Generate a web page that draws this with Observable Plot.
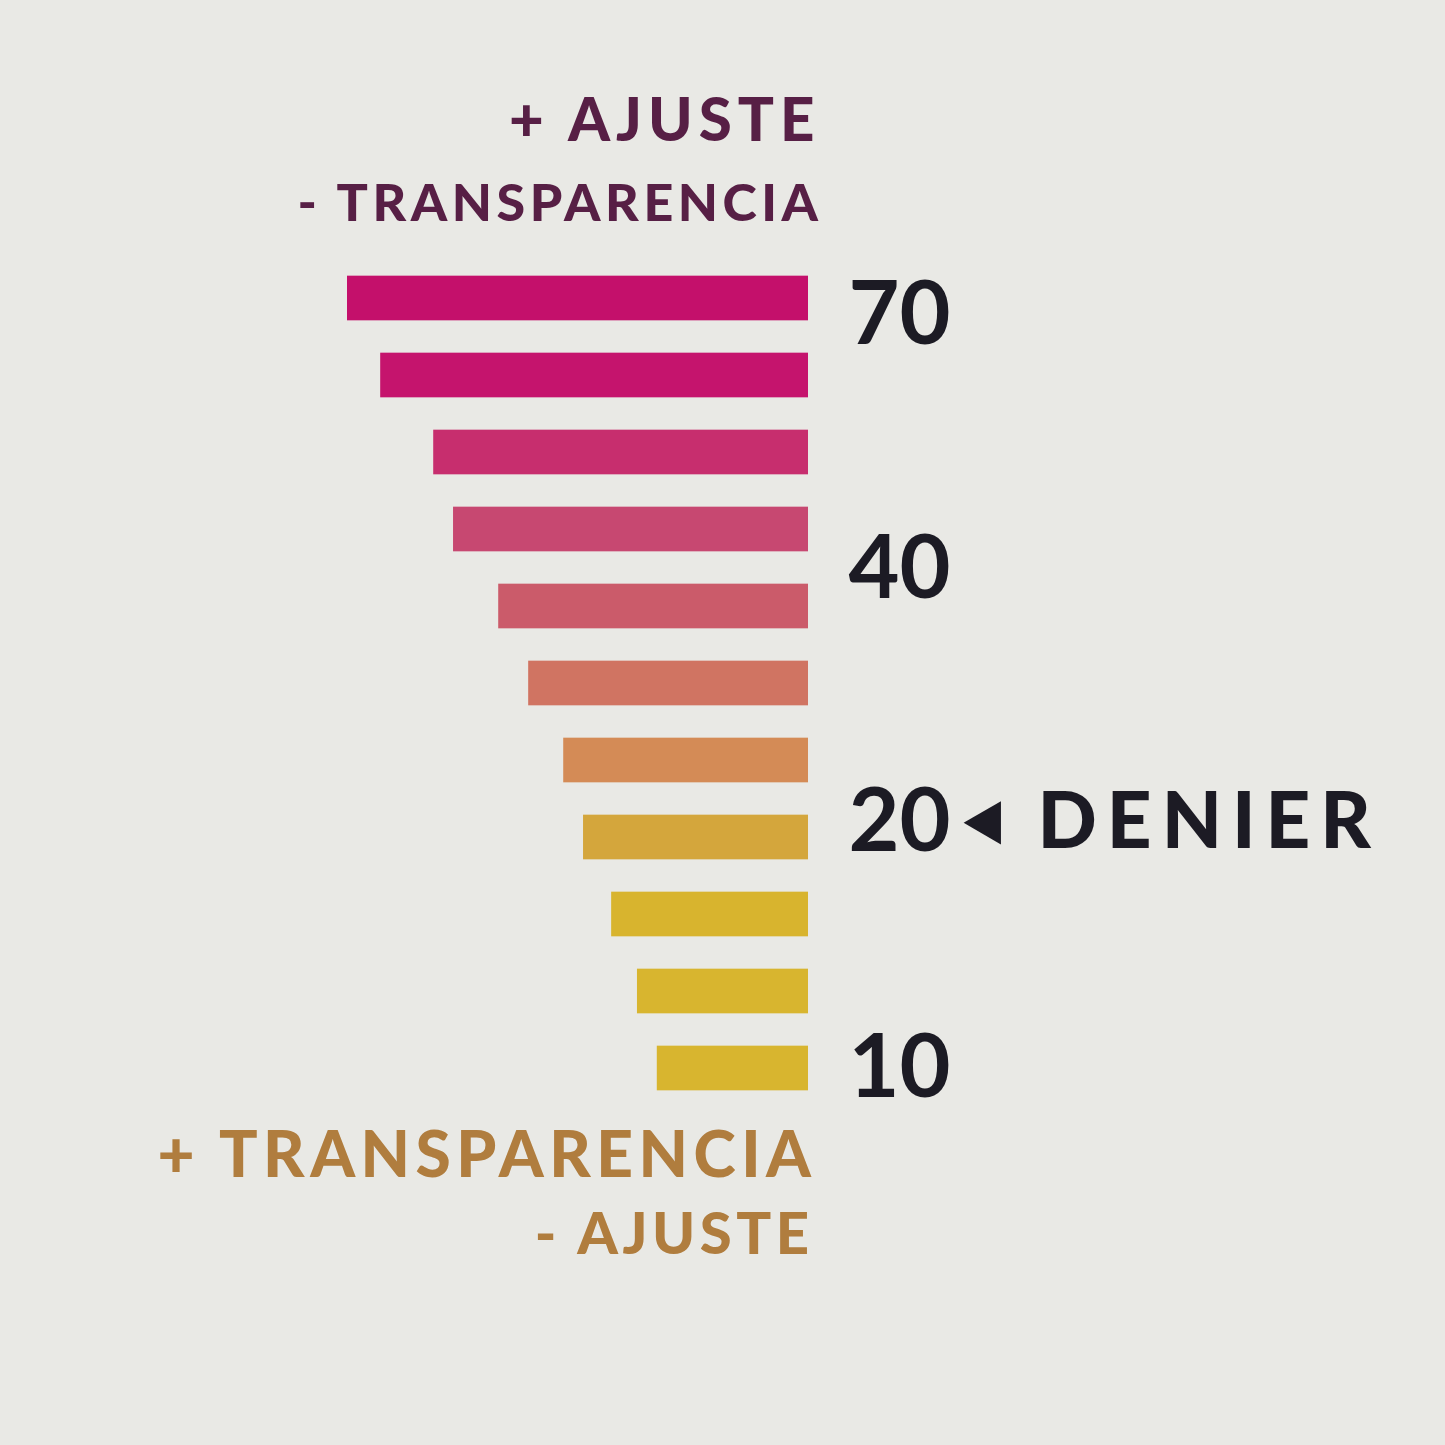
<!DOCTYPE html>
<html>
<head>
<meta charset="utf-8">
<script src="https://cdn.jsdelivr.net/npm/d3@7"></script>
<script src="https://cdn.jsdelivr.net/npm/@observablehq/plot@0.6"></script>
<style>
  html, body { margin: 0; padding: 0; background: #e9e9e5; }
  #chart { width: 1445px; height: 1445px; }
</style>
</head>
<body>
<div id="chart"></div>
<script>
// Bars, top (thickest denier) to bottom
const barIndex = [1, 2, 3, 4, 5, 6, 7, 8, 9, 10, 11];
const barLength = [100, 92.8, 81.3, 77, 67.2, 60.7, 53.1, 48.8, 42.7, 37.1, 32.8];

// Denier tick labels and their position along the bar stack
const tickLabels = ["70", "40", "20", "10"];
const tickPos = [1.22, 4.52, 7.81, 11.01];

// Header / footer annotations
const topLines = ["+ AJUSTE", "- TRANSPARENCIA"];
const topPos = [-1.30, -0.22];
const bottomLines = ["+ TRANSPARENCIA", "- AJUSTE"];
const bottomPos = [12.14, 13.17];
const axisName = "DENIER";
const axisNamePos = 7.81;

const bars = barIndex.map((i, k) => ({i, len: barLength[k]}));
const ticks = tickLabels.map((t, k) => ({t, y: tickPos[k]}));

const font = "Lato, 'Open Sans', sans-serif";
const ink = "#1c1b24";

const chart = Plot.plot({
  width: 1445,
  height: 1445,
  marginLeft: 347,
  marginRight: 637,
  marginTop: 67,
  marginBottom: 146,
  style: {background: "#e9e9e5", fontFamily: font},
  x: {domain: [0, 100], reverse: true, axis: null},
  y: {domain: [-2, 14], reverse: true, axis: null},
  color: {
    type: "linear",
    domain: [1, 2, 3, 4, 5, 6, 7, 8, 9, 11],
    range: ["#c4106b", "#c5146d", "#c72e6e", "#c74871", "#cb5b6a", "#d07462", "#d48b56", "#d4a63c", "#d8b42e", "#d8b52f"]
  },
  marks: [
    Plot.rect(bars, {x1: 0, x2: "len", y1: d => d.i - 0.29, y2: d => d.i + 0.29, fill: "i"}),
    Plot.text(ticks, {x: 0, y: "y", text: "t", textAnchor: "start", dx: 40, fontSize: 88, fontWeight: 700, fill: ink}),
    Plot.dot([axisNamePos], {x: 0, y: d => d, symbol: "triangle", r: 16, rotate: -90, dx: 180, fill: ink, stroke: "none"}),
    Plot.text([axisName], {x: 0, y: () => axisNamePos, text: d => d, textAnchor: "start", dx: 229, fontSize: 78, fontWeight: 900, fill: ink}),
    Plot.text(topLines.slice(0, 1), {x: 0, y: () => topPos[0], text: d => d, textAnchor: "end", dx: 12, fontSize: 60, fontWeight: 900, fill: "#571f45"}),
    Plot.text(topLines.slice(1), {x: 0, y: () => topPos[1], text: d => d, textAnchor: "end", dx: 14, fontSize: 52, fontWeight: 900, fill: "#571f45"}),
    Plot.text(bottomLines.slice(0, 1), {x: 0, y: () => bottomPos[0], text: d => d, textAnchor: "end", dx: 8, fontSize: 64, fontWeight: 900, fill: "#b07d3e"}),
    Plot.text(bottomLines.slice(1), {x: 0, y: () => bottomPos[1], text: d => d, textAnchor: "end", dx: 5, fontSize: 58, fontWeight: 900, fill: "#b07d3e"})
  ]
});

// letter spacing to approximate the wide humanist face of the original
const spacing = {"DENIER": 10, "+ AJUSTE": 6, "- TRANSPARENCIA": 4.5, "+ TRANSPARENCIA": 5.5, "- AJUSTE": 4.5};
d3.select(chart).selectAll("text").each(function() {
  const s = spacing[this.textContent];
  if (s) this.setAttribute("letter-spacing", s);
});

document.getElementById("chart").appendChild(chart);
</script>
</body>
</html>
